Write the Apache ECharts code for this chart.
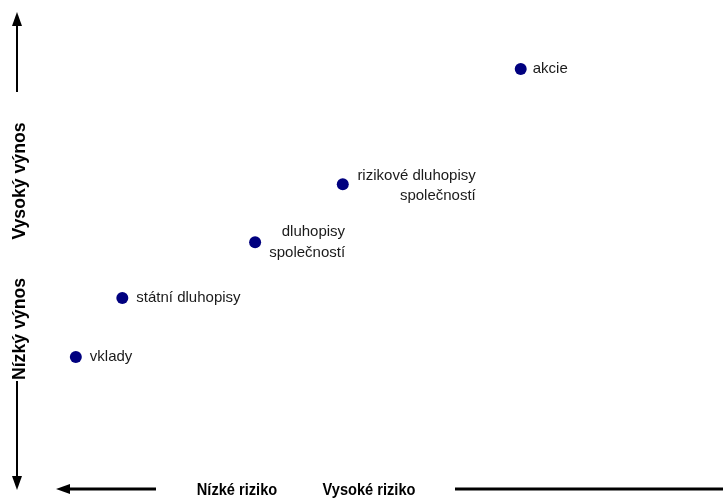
<!DOCTYPE html>
<html>
<head>
<meta charset="utf-8">
<script src="https://cdn.jsdelivr.net/npm/echarts@6/dist/echarts.min.js"></script>
<style>
  html, body { margin: 0; padding: 0; background: #fff; }
  #chart { width: 723px; height: 499px; }
</style>
</head>
<body>
<div id="chart"></div>
<script>
  // investice: riziko (x) vs. výnos (y), bez stupnic
  var names = ['vklady', 'státní dluhopisy', 'dluhopisy\nspolečností', 'rizikové dluhopisy\nspolečností', 'akcie'];
  var risk = [0.6, 1.3, 3.3, 4.62, 7.3];
  var yieldVal = [2.29, 3.6, 4.84, 6.13, 8.69];

  var labelFont = 'Arial, "Liberation Sans", sans-serif';
  var boldFont = 'bold 17px Arial, "Liberation Sans", sans-serif';

  // popisky napravo, dva delší zarovnané doprava
  var labelCfg = [
    { position: 'right', distance: 8 },
    { position: 'right', distance: 8 },
    { position: [96, 6], align: 'right', verticalAlign: 'middle', lineHeight: 21 },
    { position: [139, 8], align: 'right', verticalAlign: 'middle', lineHeight: 20 },
    { position: 'right', distance: 6 }
  ];

  var data = names.map(function (n, i) {
    return {
      name: n,
      value: [risk[i], yieldVal[i]],
      label: labelCfg[i]
    };
  });

  var chart = echarts.init(document.getElementById('chart'));
  chart.setOption({
    animation: false,
    grid: { left: 36, right: 23, top: 10, bottom: 39 },
    xAxis: { type: 'value', min: 0, max: 10, show: false },
    yAxis: { type: 'value', min: 0, max: 10, show: false },
    series: [{
      type: 'scatter',
      symbolSize: 12,
      itemStyle: { color: '#00007f', opacity: 1 },
      data: data,
      label: {
        show: true,
        formatter: '{b}',
        color: '#1a1a1a',
        fontSize: 15,
        fontFamily: labelFont
      }
    }],
    graphic: [
      // svislá šipka nahoře
      { type: 'line', shape: { x1: 17, y1: 24, x2: 17, y2: 92 }, style: { stroke: '#000', lineWidth: 2 } },
      { type: 'polygon', shape: { points: [[17, 12], [12, 26], [22, 26]] }, style: { fill: '#000' } },
      // svislá šipka dole
      { type: 'line', shape: { x1: 17, y1: 381, x2: 17, y2: 478 }, style: { stroke: '#000', lineWidth: 2 } },
      { type: 'polygon', shape: { points: [[17, 490], [12, 476], [22, 476]] }, style: { fill: '#000' } },
      // vodorovná šipka vlevo
      { type: 'line', shape: { x1: 68, y1: 489, x2: 156, y2: 489 }, style: { stroke: '#000', lineWidth: 3 } },
      { type: 'polygon', shape: { points: [[56, 489], [70, 484], [70, 494]] }, style: { fill: '#000' } },
      // vodorovná šipka vpravo
      { type: 'line', shape: { x1: 455, y1: 489, x2: 723, y2: 489 }, style: { stroke: '#000', lineWidth: 3 } },
      {
        type: 'text', x: 237, y: 490, scaleX: 0.86,
        style: { text: 'Nízké riziko', font: boldFont, fill: '#000', align: 'center', verticalAlign: 'middle' }
      },
      {
        type: 'text', x: 369, y: 490, scaleX: 0.86,
        style: { text: 'Vysoké riziko', font: boldFont, fill: '#000', align: 'center', verticalAlign: 'middle' }
      },
      {
        type: 'text', x: 20, y: 181, rotation: Math.PI / 2, scaleX: 0.93,
        style: { text: 'Vysoký výnos', font: 'bold 19px Arial, "Liberation Sans", sans-serif', fill: '#000', align: 'center', verticalAlign: 'middle' }
      },
      {
        type: 'text', x: 20, y: 329, rotation: Math.PI / 2, scaleX: 0.93,
        style: { text: 'Nízký výnos', font: 'bold 19px Arial, "Liberation Sans", sans-serif', fill: '#000', align: 'center', verticalAlign: 'middle' }
      }
    ]
  });
</script>
</body>
</html>
